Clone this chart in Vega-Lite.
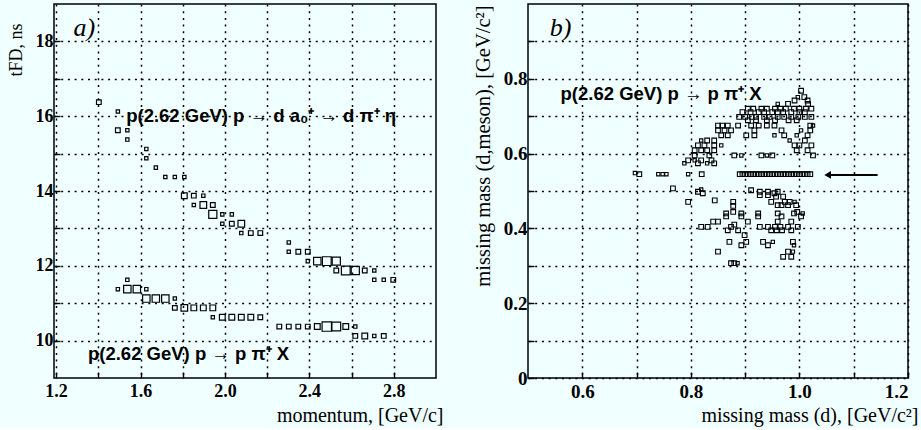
{
  "$schema": "https://vega.github.io/schema/vega-lite/v6.json",
  "background": "#f0ffff",
  "padding": {"left": 6, "top": 3, "right": 2, "bottom": 2},
  "spacing": 92,
  "bounds": "flush",
  "resolve": {"scale": {"x": "independent", "y": "independent", "size": "independent"}},
  "config": {
    "view": {"stroke": "black", "strokeWidth": 1.5},
    "axis": {
      "domain": false,
      "labelFont": "Liberation Serif", "labelFontWeight": "bold", "labelFontSize": 18, "labelColor": "black",
      "titleFont": "Liberation Serif", "titleFontWeight": "normal", "titleFontSize": 20, "titleColor": "black",
      "gridColor": "black", "gridDash": [2, 4.7], "gridWidth": 1.5, "gridOpacity": 1,
      "tickColor": "black", "tickWidth": 1.4
    }
  },
  "datasets": {
    "a": [
      {"p":1.4025,"t":16.375,"n":2},{"p":1.4925,"t":16.125,"n":1},{"p":1.4925,"t":15.625,"n":2},{"p":1.5375,"t":15.625,"n":1},
      {"p":1.5375,"t":15.375,"n":1},{"p":1.6275,"t":15.125,"n":1},{"p":1.6275,"t":14.875,"n":1},{"p":1.6725,"t":14.625,"n":1},
      {"p":1.7175,"t":14.375,"n":1},{"p":1.7625,"t":14.375,"n":1},{"p":1.8075,"t":14.375,"n":1},
      {"p":1.8075,"t":13.875,"n":3},{"p":1.8525,"t":13.875,"n":2},{"p":1.8975,"t":13.875,"n":1},
      {"p":1.8525,"t":13.625,"n":1},{"p":1.8975,"t":13.625,"n":4},{"p":1.9425,"t":13.625,"n":2},
      {"p":1.9425,"t":13.375,"n":6},{"p":1.9875,"t":13.375,"n":1},{"p":2.0325,"t":13.375,"n":1},
      {"p":1.9875,"t":13.125,"n":1},{"p":2.0325,"t":13.125,"n":2},{"p":2.0775,"t":13.125,"n":4},
      {"p":2.0775,"t":12.875,"n":1},{"p":2.1225,"t":12.875,"n":2},{"p":2.1675,"t":12.875,"n":2},
      {"p":2.3025,"t":12.625,"n":1},
      {"p":2.3025,"t":12.375,"n":1},{"p":2.3475,"t":12.375,"n":2},{"p":2.3925,"t":12.375,"n":2},
      {"p":2.3925,"t":12.125,"n":1},{"p":2.4375,"t":12.125,"n":5},{"p":2.4825,"t":12.125,"n":7},{"p":2.5275,"t":12.125,"n":6},
      {"p":2.5275,"t":11.875,"n":2},{"p":2.5725,"t":11.875,"n":7},{"p":2.6175,"t":11.875,"n":6},{"p":2.6625,"t":11.875,"n":2},{"p":2.7075,"t":11.875,"n":1},
      {"p":2.7075,"t":11.625,"n":1},{"p":2.7525,"t":11.625,"n":1},{"p":2.7975,"t":11.625,"n":2},
      {"p":1.5375,"t":11.625,"n":1},
      {"p":1.4925,"t":11.375,"n":1},{"p":1.5375,"t":11.375,"n":5},{"p":1.5825,"t":11.375,"n":5},{"p":1.6275,"t":11.375,"n":1},
      {"p":1.6275,"t":11.125,"n":5},{"p":1.6725,"t":11.125,"n":5},{"p":1.7175,"t":11.125,"n":5},{"p":1.7625,"t":11.125,"n":1},
      {"p":1.7625,"t":10.875,"n":2},{"p":1.8075,"t":10.875,"n":4},{"p":1.8525,"t":10.875,"n":3},{"p":1.8975,"t":10.875,"n":3},{"p":1.9425,"t":10.875,"n":3},
      {"p":1.9425,"t":10.625,"n":1},{"p":1.9875,"t":10.625,"n":3},{"p":2.0325,"t":10.625,"n":3},{"p":2.0775,"t":10.625,"n":3},{"p":2.1225,"t":10.625,"n":3},{"p":2.1675,"t":10.625,"n":2},
      {"p":2.2575,"t":10.375,"n":2},{"p":2.3025,"t":10.375,"n":2},{"p":2.3475,"t":10.375,"n":2},{"p":2.3925,"t":10.375,"n":2},{"p":2.4375,"t":10.375,"n":3},
      {"p":2.4825,"t":10.375,"n":8},{"p":2.5275,"t":10.375,"n":7},{"p":2.5725,"t":10.375,"n":3},{"p":2.6175,"t":10.375,"n":1},
      {"p":2.6175,"t":10.125,"n":2},{"p":2.6625,"t":10.125,"n":3},{"p":2.7075,"t":10.125,"n":1},{"p":2.7525,"t":10.125,"n":2}
    ],
    "b": [
      {"mx":0.890,"my":0.545,"n":2},{"mx":0.895,"my":0.545,"n":2},{"mx":0.900,"my":0.545,"n":2},{"mx":0.905,"my":0.545,"n":2},{"mx":0.910,"my":0.545,"n":2},
      {"mx":0.915,"my":0.545,"n":2},{"mx":0.920,"my":0.545,"n":2},{"mx":0.925,"my":0.545,"n":2},{"mx":0.930,"my":0.545,"n":2},{"mx":0.935,"my":0.545,"n":2},
      {"mx":0.940,"my":0.545,"n":2},{"mx":0.945,"my":0.545,"n":2},{"mx":0.950,"my":0.545,"n":2},{"mx":0.955,"my":0.545,"n":2},{"mx":0.960,"my":0.545,"n":2},
      {"mx":0.965,"my":0.545,"n":2},{"mx":0.970,"my":0.545,"n":2},{"mx":0.975,"my":0.545,"n":2},{"mx":0.980,"my":0.545,"n":2},{"mx":0.985,"my":0.545,"n":2},
      {"mx":0.990,"my":0.545,"n":2},{"mx":0.995,"my":0.545,"n":2},{"mx":1.000,"my":0.545,"n":2},{"mx":1.005,"my":0.545,"n":2},{"mx":1.010,"my":0.545,"n":2},
      {"mx":1.015,"my":0.545,"n":2},{"mx":1.020,"my":0.545,"n":2},
      {"mx":0.697,"my":0.548,"n":1},{"mx":0.705,"my":0.545,"n":2},{"mx":0.740,"my":0.545,"n":1},{"mx":0.748,"my":0.545,"n":1},{"mx":0.755,"my":0.545,"n":1},
      {"mx":0.795,"my":0.545,"n":1},{"mx":0.820,"my":0.545,"n":2},
      {"mx":1.003,"my":0.768,"n":2},{"mx":1.009,"my":0.751,"n":2},{"mx":0.997,"my":0.751,"n":1},{"mx":0.991,"my":0.742,"n":2},{"mx":1.015,"my":0.742,"n":2},
      {"mx":0.979,"my":0.733,"n":2},{"mx":1.016,"my":0.733,"n":2},{"mx":0.960,"my":0.733,"n":1},
      {"mx":0.905,"my":0.720,"n":2},{"mx":0.915,"my":0.720,"n":2},{"mx":0.930,"my":0.720,"n":2},{"mx":0.940,"my":0.720,"n":2},{"mx":0.955,"my":0.720,"n":2},
      {"mx":0.965,"my":0.720,"n":2},{"mx":0.975,"my":0.720,"n":2},{"mx":0.990,"my":0.720,"n":2},{"mx":1.000,"my":0.720,"n":2},{"mx":1.012,"my":0.720,"n":2},{"mx":1.022,"my":0.720,"n":2},
      {"mx":0.895,"my":0.711,"n":2},{"mx":0.910,"my":0.711,"n":2},{"mx":0.925,"my":0.711,"n":2},{"mx":0.935,"my":0.711,"n":2},{"mx":0.950,"my":0.711,"n":2},
      {"mx":0.960,"my":0.711,"n":2},{"mx":0.970,"my":0.711,"n":2},{"mx":0.985,"my":0.711,"n":2},{"mx":1.000,"my":0.711,"n":2},{"mx":1.010,"my":0.711,"n":2},
      {"mx":0.889,"my":0.698,"n":2},{"mx":0.900,"my":0.698,"n":2},{"mx":0.912,"my":0.698,"n":2},{"mx":0.920,"my":0.698,"n":2},{"mx":0.935,"my":0.698,"n":2},{"mx":0.945,"my":0.698,"n":2},
      {"mx":0.960,"my":0.698,"n":2},{"mx":0.972,"my":0.698,"n":2},{"mx":0.985,"my":0.698,"n":2},{"mx":0.998,"my":0.698,"n":2},{"mx":1.010,"my":0.698,"n":2},{"mx":1.022,"my":0.698,"n":2},
      {"mx":0.905,"my":0.689,"n":2},{"mx":0.920,"my":0.689,"n":2},{"mx":0.940,"my":0.689,"n":2},{"mx":0.955,"my":0.689,"n":2},{"mx":0.980,"my":0.689,"n":2},{"mx":0.995,"my":0.689,"n":2},
      {"mx":0.850,"my":0.675,"n":2},{"mx":0.858,"my":0.675,"n":2},{"mx":0.868,"my":0.675,"n":2},{"mx":0.887,"my":0.675,"n":2},{"mx":0.911,"my":0.675,"n":2},
      {"mx":0.925,"my":0.675,"n":2},{"mx":0.940,"my":0.675,"n":2},{"mx":0.954,"my":0.675,"n":2},{"mx":1.020,"my":0.675,"n":2},{"mx":1.025,"my":0.675,"n":1},
      {"mx":0.850,"my":0.662,"n":2},{"mx":0.862,"my":0.662,"n":2},{"mx":0.874,"my":0.662,"n":2},{"mx":0.917,"my":0.662,"n":2},{"mx":0.967,"my":0.662,"n":2},{"mx":1.003,"my":0.662,"n":1},{"mx":1.020,"my":0.662,"n":2},
      {"mx":0.856,"my":0.649,"n":2},{"mx":0.868,"my":0.649,"n":2},{"mx":0.902,"my":0.649,"n":2},{"mx":0.917,"my":0.649,"n":2},{"mx":0.954,"my":0.649,"n":1},{"mx":0.972,"my":0.649,"n":2},{"mx":0.995,"my":0.649,"n":1},{"mx":1.015,"my":0.649,"n":2},
      {"mx":0.819,"my":0.635,"n":1},{"mx":0.830,"my":0.635,"n":2},{"mx":0.843,"my":0.635,"n":2},{"mx":0.982,"my":0.635,"n":1},{"mx":1.010,"my":0.635,"n":2},
      {"mx":0.813,"my":0.622,"n":2},{"mx":0.825,"my":0.622,"n":2},{"mx":0.843,"my":0.622,"n":2},{"mx":0.856,"my":0.622,"n":1},{"mx":0.991,"my":0.622,"n":2},{"mx":1.000,"my":0.622,"n":2},{"mx":1.022,"my":0.622,"n":2},
      {"mx":0.807,"my":0.609,"n":2},{"mx":0.819,"my":0.609,"n":2},{"mx":0.830,"my":0.609,"n":2},{"mx":0.843,"my":0.609,"n":2},{"mx":0.995,"my":0.609,"n":2},{"mx":1.015,"my":0.609,"n":2},
      {"mx":0.807,"my":0.595,"n":2},{"mx":0.834,"my":0.595,"n":2},{"mx":0.880,"my":0.595,"n":2},{"mx":0.893,"my":0.595,"n":1},{"mx":0.930,"my":0.595,"n":2},{"mx":0.940,"my":0.595,"n":1},{"mx":0.950,"my":0.595,"n":2},{"mx":1.025,"my":0.595,"n":2},
      {"mx":0.795,"my":0.582,"n":2},{"mx":0.807,"my":0.582,"n":1},{"mx":0.819,"my":0.582,"n":2},{"mx":0.838,"my":0.582,"n":2},
      {"mx":0.788,"my":0.574,"n":1},{"mx":0.813,"my":0.574,"n":2},{"mx":0.830,"my":0.574,"n":1},{"mx":0.843,"my":0.574,"n":2},
      {"mx":0.767,"my":0.507,"n":2},{"mx":0.819,"my":0.504,"n":1},
      {"mx":0.813,"my":0.498,"n":2},{"mx":0.822,"my":0.494,"n":2},{"mx":0.911,"my":0.502,"n":2},{"mx":0.927,"my":0.498,"n":2},{"mx":0.942,"my":0.498,"n":2},{"mx":0.954,"my":0.494,"n":2},{"mx":0.960,"my":0.498,"n":2},
      {"mx":0.927,"my":0.489,"n":2},{"mx":0.942,"my":0.489,"n":2},{"mx":0.957,"my":0.485,"n":2},{"mx":0.970,"my":0.485,"n":2},
      {"mx":0.844,"my":0.475,"n":2},
      {"mx":0.795,"my":0.471,"n":2},{"mx":0.878,"my":0.471,"n":2},{"mx":0.948,"my":0.471,"n":2},{"mx":0.973,"my":0.471,"n":2},{"mx":0.982,"my":0.471,"n":2},{"mx":0.991,"my":0.471,"n":1},
      {"mx":0.878,"my":0.460,"n":2},{"mx":0.960,"my":0.462,"n":2},{"mx":0.967,"my":0.462,"n":2},{"mx":0.979,"my":0.462,"n":2},{"mx":0.994,"my":0.462,"n":2},
      {"mx":0.865,"my":0.440,"n":2},{"mx":0.878,"my":0.444,"n":2},{"mx":0.893,"my":0.440,"n":2},{"mx":0.924,"my":0.440,"n":2},{"mx":0.960,"my":0.440,"n":2},{"mx":0.990,"my":0.440,"n":2},{"mx":0.996,"my":0.444,"n":2},{"mx":1.006,"my":0.440,"n":1},
      {"mx":0.865,"my":0.432,"n":2},{"mx":0.893,"my":0.432,"n":2},{"mx":0.924,"my":0.432,"n":2},{"mx":0.967,"my":0.432,"n":2},{"mx":1.003,"my":0.432,"n":2},
      {"mx":0.841,"my":0.418,"n":2},{"mx":0.850,"my":0.418,"n":2},{"mx":0.905,"my":0.418,"n":2},{"mx":0.960,"my":0.418,"n":2},{"mx":0.985,"my":0.418,"n":2},
      {"mx":0.819,"my":0.404,"n":2},{"mx":0.831,"my":0.404,"n":2},{"mx":0.874,"my":0.404,"n":2},{"mx":0.880,"my":0.410,"n":2},{"mx":0.927,"my":0.404,"n":2},
      {"mx":0.942,"my":0.404,"n":2},{"mx":0.955,"my":0.404,"n":2},{"mx":0.965,"my":0.404,"n":2},{"mx":0.979,"my":0.404,"n":2},{"mx":0.997,"my":0.404,"n":2},
      {"mx":0.868,"my":0.395,"n":2},{"mx":0.887,"my":0.395,"n":2},{"mx":0.948,"my":0.395,"n":2},{"mx":0.958,"my":0.395,"n":2},{"mx":0.968,"my":0.395,"n":2},{"mx":0.985,"my":0.395,"n":2},
      {"mx":0.899,"my":0.382,"n":2},
      {"mx":0.871,"my":0.364,"n":2},{"mx":0.902,"my":0.364,"n":2},{"mx":0.933,"my":0.364,"n":2},{"mx":0.951,"my":0.364,"n":1},{"mx":0.988,"my":0.364,"n":2},
      {"mx":0.893,"my":0.355,"n":2},{"mx":0.942,"my":0.355,"n":2},{"mx":0.990,"my":0.355,"n":1},
      {"mx":0.850,"my":0.338,"n":2},{"mx":0.979,"my":0.338,"n":2},{"mx":0.988,"my":0.338,"n":1},
      {"mx":0.970,"my":0.324,"n":2},{"mx":0.985,"my":0.324,"n":2},
      {"mx":0.874,"my":0.307,"n":2},{"mx":0.880,"my":0.307,"n":2},{"mx":0.886,"my":0.307,"n":1}
    ]
  },
  "hconcat": [
    {
      "width": 382,
      "height": 374,
      "layer": [
        {
          "data": {"name": "a"},
          "mark": {"type": "point", "shape": "square", "filled": false, "stroke": "black", "strokeWidth": 1.2, "opacity": 1},
          "encoding": {
            "x": {"field": "p", "type": "quantitative", "scale": {"domain": [1.19, 3.0], "nice": false, "zero": false},
              "axis": {"orient": "bottom", "grid": true, "values": [1.2, 1.4, 1.6, 1.8, 2.0, 2.2, 2.4, 2.6, 2.8],
                "labelExpr": "indexof(['1.2','1.6','2.0','2.4','2.8'], format(datum.value,'.1f')) >= 0 ? format(datum.value,'.1f') : ''",
                "tickSize": -6, "labelPadding": 10,
                "title": "momentum, [GeV/c]", "titleAnchor": "end", "titleAlign": "right", "titleX": 389, "titleY": 37, "titleBaseline": "middle"}},
            "y": {"field": "t", "type": "quantitative", "scale": {"domain": [9, 19], "nice": false, "zero": false},
              "axis": {"orient": "left", "grid": true, "values": [10, 11, 12, 13, 14, 15, 16, 17, 18],
                "labelExpr": "datum.value % 2 == 0 ? datum.label : ''",
                "tickSize": -6, "labelPadding": 7,
                "title": "tFD, ns", "titleAngle": -90, "titleAlign": "right", "titleX": -38, "titleY": 19, "titleBaseline": "middle", "titleFontSize": 18}},
            "size": {"field": "n", "type": "quantitative", "scale": {"domain": [0, 10], "range": [0, 110]}, "legend": null}
          }
        },
        {
          "data": {"values": [
            {"x": 1.532, "y": 16.0, "label": "p(2.62 GeV) p → d a₀⁺ → d π⁺ η"},
            {"x": 1.351, "y": 9.65, "label": "p(2.62 GeV) p → p π⁺ X"}
          ]},
          "mark": {"type": "text", "align": "left", "baseline": "middle", "font": "Liberation Sans", "fontSize": 18.5, "fontWeight": "bold", "color": "black"},
          "encoding": {
            "x": {"field": "x", "type": "quantitative"},
            "y": {"field": "y", "type": "quantitative"},
            "text": {"field": "label"}
          }
        },
        {
          "data": {"values": [{"x": 1.282, "y": 18.35, "label": "a)"}]},
          "mark": {"type": "text", "align": "left", "baseline": "middle", "font": "Liberation Serif", "fontSize": 26, "fontStyle": "italic", "color": "black"},
          "encoding": {
            "x": {"field": "x", "type": "quantitative"},
            "y": {"field": "y", "type": "quantitative"},
            "text": {"field": "label"}
          }
        }
      ]
    },
    {
      "width": 380,
      "height": 374,
      "layer": [
        {
          "data": {"name": "b"},
          "mark": {"type": "point", "shape": "square", "filled": false, "stroke": "black", "strokeWidth": 1.1, "opacity": 1},
          "encoding": {
            "x": {"field": "mx", "type": "quantitative", "scale": {"domain": [0.5, 1.2], "nice": false, "zero": false},
              "axis": {"orient": "bottom", "grid": true, "values": [0.6, 0.7, 0.8, 0.9, 1.0, 1.1, 1.2],
                "labelExpr": "indexof(['0.6','0.8','1.0','1.2'], format(datum.value,'.1f')) >= 0 ? format(datum.value,'.1f') : ''",
                "tickSize": -6, "labelPadding": 10, "labelFontSize": 19,
                "title": "missing mass (d), [GeV/c²]", "titleAnchor": "end", "titleAlign": "right", "titleX": 390, "titleY": 37, "titleBaseline": "middle"}},
            "y": {"field": "my", "type": "quantitative", "scale": {"domain": [0, 1.0], "nice": false, "zero": false},
              "axis": {"orient": "left", "grid": true, "values": [0, 0.1, 0.2, 0.3, 0.4, 0.5, 0.6, 0.7, 0.8, 0.9],
                "labelExpr": "datum.value == 0 ? '0' : (indexof(['0.2','0.4','0.6','0.8'], format(datum.value,'.1f')) >= 0 ? format(datum.value,'.1f') : '')",
                "tickSize": -6, "labelPadding": 7, "labelFontSize": 19,
                "title": "missing mass (d,meson), [GeV/c²]", "titleAngle": -90, "titleAlign": "right", "titleX": -45, "titleY": 1, "titleBaseline": "middle", "titleFontSize": 20.5}},
            "size": {"field": "n", "type": "quantitative", "scale": {"domain": [0, 10], "range": [0, 110]}, "legend": null}
          }
        },
        {
          "data": {"values": [{"x1": 1.055, "x2": 1.144, "y": 0.543}]},
          "mark": {"type": "rule", "strokeWidth": 2, "color": "black"},
          "encoding": {
            "x": {"field": "x1", "type": "quantitative"},
            "x2": {"field": "x2"},
            "y": {"field": "y", "type": "quantitative"}
          }
        },
        {
          "data": {"values": [{"x": 1.052, "y": 0.543}]},
          "mark": {"type": "point", "shape": "triangle-left", "filled": true, "color": "black", "size": 60, "opacity": 1},
          "encoding": {
            "x": {"field": "x", "type": "quantitative"},
            "y": {"field": "y", "type": "quantitative"}
          }
        },
        {
          "data": {"values": [{"x": 0.56, "y": 0.76, "label": "p(2.62 GeV) p → p π⁺ X"}]},
          "mark": {"type": "text", "align": "left", "baseline": "middle", "font": "Liberation Sans", "fontSize": 18.5, "fontWeight": "bold", "color": "black"},
          "encoding": {
            "x": {"field": "x", "type": "quantitative"},
            "y": {"field": "y", "type": "quantitative"},
            "text": {"field": "label"}
          }
        },
        {
          "data": {"values": [{"x": 0.54, "y": 0.935, "label": "b)"}]},
          "mark": {"type": "text", "align": "left", "baseline": "middle", "font": "Liberation Serif", "fontSize": 26, "fontStyle": "italic", "color": "black"},
          "encoding": {
            "x": {"field": "x", "type": "quantitative"},
            "y": {"field": "y", "type": "quantitative"},
            "text": {"field": "label"}
          }
        }
      ]
    }
  ]
}
